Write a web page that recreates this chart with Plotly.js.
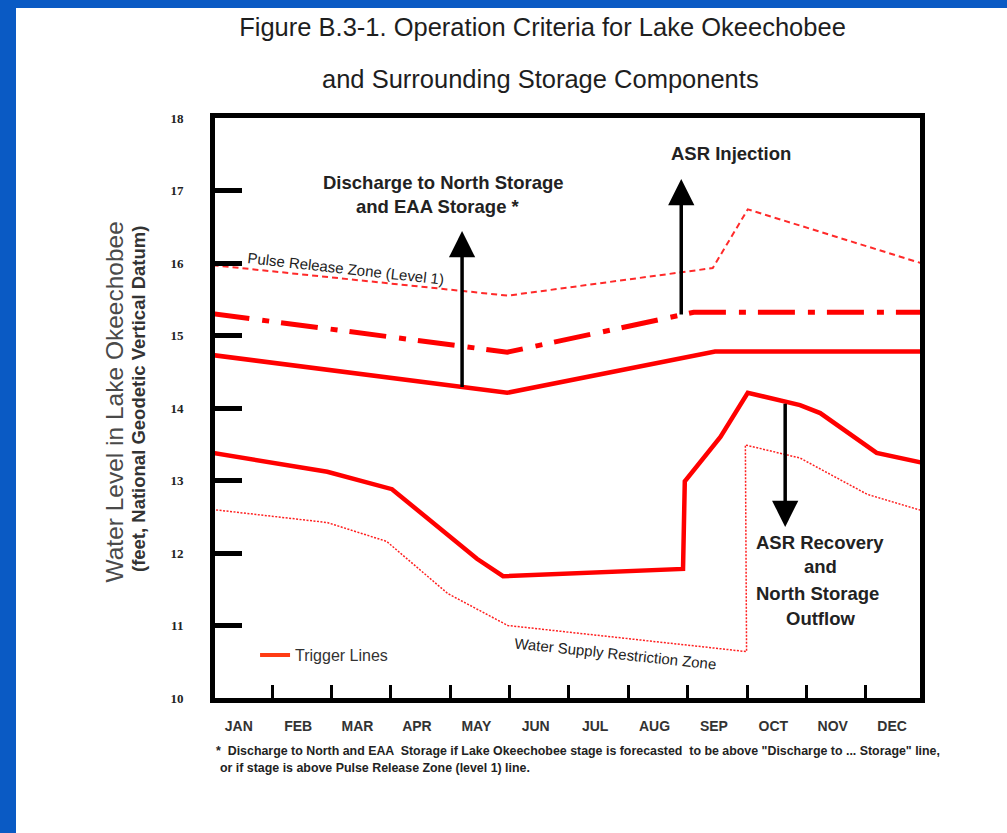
<!DOCTYPE html>
<html>
<head>
<meta charset="utf-8">
<script src="https://cdn.plot.ly/plotly-3.0.1.min.js"></script>
<style>
html, body { margin:0; padding:0; width:1007px; height:833px; overflow:hidden; background:#0a5ac4; }
#chart { position:absolute; left:16px; top:8px; width:991px; height:825px; background:#ffffff; }
</style>
</head>
<body>
<div id="chart"></div>
<script>
// ---- data (x in months from Jan 1; y in feet NGVD) ----
const months = ['JAN','FEB','MAR','APR','MAY','JUN','JUL','AUG','SEP','OCT','NOV','DEC'];
const monthLabelPos = [0.44, 1.44, 2.44, 3.44, 4.44, 5.44, 6.44, 7.44, 8.44, 9.44, 10.44, 11.44];
const monthBoundaries = [1, 2, 3, 4, 5, 6, 7, 8, 9, 10, 11];
const yTicks = [10, 11, 12, 13, 14, 15, 16, 17, 18];

const pulseX = [0, 4.97, 8.42, 9.01, 11.92];
const pulseY = [15.97, 15.55, 15.93, 16.74, 16.00];

const dischargeX = [0, 4.96, 8.10, 11.92];
const dischargeY = [15.30, 14.77, 15.32, 15.32];

const upperTriggerX = [0, 4.96, 8.46, 11.92];
const upperTriggerY = [14.73, 14.21, 14.78, 14.78];

const lowerTriggerX = [0, 1.93, 3.02, 4.45, 4.89, 7.92, 7.95, 8.55, 9.01, 9.89, 10.23, 11.18, 11.92];
const lowerTriggerY = [13.38, 13.12, 12.88, 11.92, 11.68, 11.78, 12.99, 13.60, 14.21, 14.04, 13.93, 13.38, 13.25];

const restrictX = [0, 1.93, 2.93, 3.96, 4.97, 6.52, 8.99, 8.97, 9.89, 11.02, 11.92];
const restrictY = [12.60, 12.42, 12.16, 11.44, 11.00, 10.86, 10.64, 13.49, 13.31, 12.81, 12.59];

// arrows: x position, tail level, head level
const arrowX    = [4.20, 7.89, 9.64];
const arrowFrom = [14.27, 15.27, 14.08];
const arrowTo   = [16.44, 17.16, 12.36];

// ---- styling ----
const SANS = 'Liberation Sans, Arial, Helvetica, sans-serif';
const SERIF = 'Liberation Serif, Times New Roman, serif';
const RED = '#ff0000';

const traces = [
  { x: pulseX, y: pulseY, mode: 'lines', line: {color: '#ff2a2a', width: 2, dash: '6px,4px'}, showlegend: false, hoverinfo: 'skip' },
  { x: dischargeX, y: dischargeY, mode: 'lines', line: {color: RED, width: 5, dash: '37px,13px,7px,12px'}, showlegend: false, hoverinfo: 'skip' },
  { x: upperTriggerX, y: upperTriggerY, mode: 'lines', line: {color: RED, width: 4.5}, showlegend: false, hoverinfo: 'skip' },
  { x: lowerTriggerX, y: lowerTriggerY, mode: 'lines', line: {color: RED, width: 4.5}, showlegend: false, hoverinfo: 'skip' },
  { x: restrictX, y: restrictY, mode: 'lines', line: {color: '#ff2020', width: 1.5, dash: '2px,1.5px'}, showlegend: false, hoverinfo: 'skip' },
  { x: [null], y: [null], xaxis: 'x2', mode: 'lines', name: 'Trigger Lines', line: {color: '#ff3c14', width: 4}, showlegend: true, hoverinfo: 'skip' }
];

const annotations = [];
for (let i = 0; i < arrowX.length; i++) {
  annotations.push({
    x: arrowX[i], y: arrowTo[i], ax: arrowX[i], ay: arrowFrom[i],
    xref: 'x', yref: 'y', axref: 'x', ayref: 'y',
    text: '', showarrow: true, arrowhead: 2, arrowsize: 1.5, arrowwidth: 3.5, arrowcolor: '#000', standoff: 0
  });
}
const boldTxt = {family: SANS, size: 18.5, color: '#222', weight: 'bold'};
const addText = (x, y, text, font, extra) => annotations.push(Object.assign({x, y, xref: 'x', yref: 'y', text, showarrow: false, font,
  xanchor: 'center', yanchor: 'middle'}, extra || {}));

addText(3.88, 17.11, 'Discharge to North Storage', boldTxt);
addText(3.79, 16.78, 'and EAA Storage *', boldTxt);
addText(8.73, 17.51, 'ASR Injection', boldTxt);
addText(10.23, 12.15, 'ASR Recovery', boldTxt);
addText(10.23, 11.81, 'and', boldTxt);
addText(10.19, 11.44, 'North Storage', boldTxt);
addText(10.24, 11.10, 'Outflow', boldTxt);
addText(2.25, 15.93, 'Pulse Release Zone (Level 1)', {family: SANS, size: 15, color: '#222'}, {textangle: 6.3});
addText(6.78, 10.62, 'Water Supply Restriction Zone', {family: SANS, size: 15, color: '#222'}, {textangle: 6});

// titles / footnotes in paper coordinates
const paperText = (x, y, text, font, extra) => annotations.push(Object.assign({xref: 'paper', yref: 'paper', x, y, text, font,
  showarrow: false, xanchor: 'center', yanchor: 'middle'}, extra || {}));

paperText(0.4624, 1.0664, 'and Surrounding Storage Components', {family: SANS, size: 25.5, color: '#1e1e1e'});
paperText(-0.1426, 0.5103, 'Water Level in Lake Okeechobee', {family: SANS, size: 24.5, color: '#4a4a4a'}, {textangle: -90});
paperText(-0.1092, 0.5155, '(feet, National Geodetic Vertical Datum)', {family: SANS, size: 18.5, color: '#333', weight: 'bold'}, {textangle: -90});
paperText(-0.0014, -0.0914,
  '* &nbsp;Discharge to North and EAA &nbsp;Storage if Lake Okeechobee stage is forecasted &nbsp;to be above "Discharge to ... Storage" line,',
  {family: SANS, size: 12.4, color: '#222', weight: 'bold'}, {xanchor: 'left'});
paperText(0.0043, -0.1207, 'or if stage is above Pulse Release Zone (level 1) line.',
  {family: SANS, size: 12.4, color: '#222', weight: 'bold'}, {xanchor: 'left'});

const layout = {
  width: 991, height: 825,
  paper_bgcolor: '#ffffff', plot_bgcolor: '#ffffff',
  margin: {l: 199, r: 87, t: 110, b: 135, pad: 0},
  title: {text: 'Figure B.3-1. Operation Criteria for Lake Okeechobee', x: 0.5313, xanchor: 'center', y: 0.977, yanchor: 'middle',
          font: {family: SANS, size: 25.5, color: '#1e1e1e'}},
  showlegend: true,
  legend: {x: 0.0568, xanchor: 'left', y: 0.074, yanchor: 'middle', bgcolor: 'rgba(0,0,0,0)', borderwidth: 0,
           font: {family: SANS, size: 16, color: '#333'}},
  xaxis: {range: [0.04, 11.91], showline: true, mirror: true, linewidth: 5, linecolor: '#000',
          showgrid: false, zeroline: false, tickmode: 'array', tickvals: monthLabelPos, ticktext: months,
          ticks: '', tickfont: {family: SANS, size: 14, color: '#333', weight: 'bold'}, ticklabelstandoff: 11, fixedrange: true},
  xaxis2: {overlaying: 'x', anchor: 'y', side: 'bottom', range: [0.04, 11.91], tickmode: 'array', tickvals: monthBoundaries,
           ticks: 'inside', ticklen: 13, tickwidth: 3, tickcolor: '#000', showticklabels: false,
           showgrid: false, zeroline: false, showline: false, fixedrange: true},
  yaxis: {range: [10, 18], showline: true, mirror: true, linewidth: 5, linecolor: '#000',
          showgrid: false, zeroline: false, tickmode: 'array', tickvals: yTicks,
          ticks: 'inside', ticklen: 27, tickwidth: 5, tickcolor: '#000',
          tickfont: {family: SERIF, size: 13, color: '#222', weight: 'bold'}, ticklabelstandoff: 24, fixedrange: true},
  annotations: annotations,
  hovermode: false
};

Plotly.newPlot('chart', traces, layout, {displayModeBar: false, staticPlot: true});
</script>
</body>
</html>
